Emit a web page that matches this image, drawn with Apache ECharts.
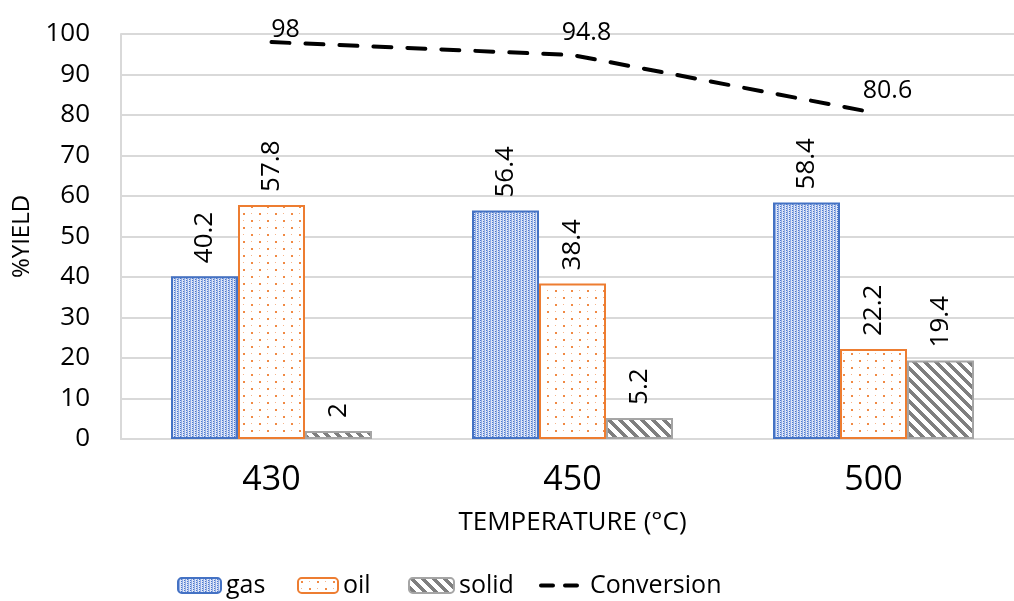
<!DOCTYPE html>
<html>
<head>
<meta charset="utf-8">
<script src="https://cdn.jsdelivr.net/npm/echarts@6/dist/echarts.min.js"></script>
<style>
  html, body { margin: 0; padding: 0; background: #fff; overflow: hidden; }
  #chart { width: 1014px; height: 601px; }
</style>
</head>
<body>
<div id="chart"></div>
<script>
// Product yields and conversion by reaction temperature
const temperatures = ['430', '450', '500'];
const gasYield = [40.2, 56.4, 58.4];
const oilYield = [57.8, 38.4, 22.2];
const solidYield = [2, 5.2, 19.4];
const conversion = [98, 94.8, 80.6];

const FONT = '"Open Sans", "Noto Sans", sans-serif';

// Fill patterns drawn on small canvases
function makePattern(w, h, draw) {
  const c = document.createElement('canvas');
  c.width = w; c.height = h;
  const ctx = c.getContext('2d');
  ctx.fillStyle = '#ffffff';
  ctx.fillRect(0, 0, w, h);
  draw(ctx);
  return { image: c, repeat: 'repeat' };
}

const gasFill = makePattern(6, 4, ctx => {
  ctx.fillStyle = '#dde5f6';
  ctx.fillRect(0, 0, 6, 4);
  ctx.fillStyle = '#4a76cc';
  ctx.fillRect(0, 0, 1, 1); ctx.fillRect(0, 2, 1, 1);
  ctx.fillRect(3, 1, 1, 1); ctx.fillRect(3, 3, 1, 1);
  ctx.fillStyle = '#93aee5';
  ctx.fillRect(1, 0, 1, 4); ctx.fillRect(4, 0, 1, 4);
});

const oilFill = makePattern(16, 14, ctx => {
  ctx.fillStyle = '#f08a45';
  ctx.fillRect(3, 3, 2, 2);
  ctx.fillRect(11, 10, 2, 2);
  ctx.fillStyle = '#f6b58a';
  ctx.fillRect(11, 3, 1, 1);
  ctx.fillRect(3, 10, 1, 1);
});

const solidFill = makePattern(11, 11, ctx => {
  ctx.fillStyle = '#7f7f7f';
  for (let x = 0; x < 11; x++) {
    for (let y = 0; y < 11; y++) {
      if (((x - y) % 11 + 11) % 11 < 5) ctx.fillRect(x, y, 1, 1);
    }
  }
});

const barLabel = {
  show: true,
  position: 'top',
  rotate: 90,
  align: 'left',
  verticalAlign: 'middle',
  distance: 13,
  color: '#000',
  fontFamily: FONT,
  fontSize: 26
};

// Conversion points; the first label sits lower, close to the top gridline
const conversionData = conversion.map((v, i) => (
  i === 0 ? { value: v, label: { offset: [14, 10] } } : v
));

const legendText = { fontFamily: FONT, fontSize: 25, color: '#000' };
function legendAt(left, name, extra) {
  return Object.assign({
    bottom: 3,
    left: left,
    padding: 0,
    itemWidth: 43,
    itemHeight: 15,
    itemGap: 0,
    textStyle: legendText,
    data: [name]
  }, extra || {});
}

const chart = echarts.init(document.getElementById('chart'), null, { renderer: 'canvas' });

chart.setOption({
  backgroundColor: '#ffffff',
  animation: false,
  grid: { left: 121, top: 34, width: 903, height: 405, containLabel: false, outerBoundsMode: 'none' },
  legend: [
    legendAt(177, 'gas'),
    legendAt(297, 'oil', { itemWidth: 40 }),
    legendAt(408, 'solid', { itemWidth: 45 }),
    legendAt(539, 'Conversion', {
      itemWidth: 36,
      textStyle: Object.assign({}, legendText, { padding: [0, 0, 0, 8] }),
      data: [{ name: 'Conversion', lineStyle: { type: [12, 12], width: 4, cap: 'round' } }]
    })
  ],
  xAxis: {
    type: 'category',
    data: temperatures,
    name: 'TEMPERATURE (°C)',
    nameLocation: 'middle',
    nameGap: 71,
    nameTextStyle: { fontFamily: FONT, fontSize: 26, color: '#000' },
    axisLine: { show: true, lineStyle: { color: '#d9d9d9', width: 2 } },
    axisTick: { show: false },
    axisLabel: { fontFamily: FONT, fontSize: 34, color: '#000', margin: 24 }
  },
  yAxis: {
    type: 'value',
    min: 0,
    max: 100,
    interval: 10,
    name: '%YIELD',
    nameLocation: 'middle',
    nameGap: 86,
    nameTextStyle: { fontFamily: FONT, fontSize: 24, color: '#000' },
    axisLine: { show: true, lineStyle: { color: '#d9d9d9', width: 2 } },
    axisTick: { show: false },
    splitLine: { lineStyle: { color: '#d9d9d9', width: 2 } },
    axisLabel: { fontFamily: FONT, fontSize: 26, color: '#000', margin: 31 }
  },
  series: [
    {
      name: 'gas', type: 'bar', data: gasYield,
      barWidth: 67, barGap: '0%',
      itemStyle: { color: gasFill, borderColor: '#4472c4', borderWidth: 2 },
      label: barLabel
    },
    {
      name: 'oil', type: 'bar', data: oilYield,
      barWidth: 67, barGap: '0%',
      itemStyle: { color: oilFill, borderColor: '#ed7d31', borderWidth: 2 },
      label: barLabel
    },
    {
      name: 'solid', type: 'bar', data: solidYield,
      barWidth: 67, barGap: '0%',
      itemStyle: { color: solidFill, borderColor: '#a5a5a5', borderWidth: 2 },
      label: barLabel
    },
    {
      name: 'Conversion', type: 'line', data: conversionData,
      symbol: 'circle', symbolSize: 1,
      itemStyle: { color: 'rgba(0,0,0,0)' },
      lineStyle: { color: '#000', width: 4, type: [18, 16], cap: 'round' },
      label: {
        show: true, position: 'top', distance: 9, offset: [14, 0],
        color: '#000', fontFamily: FONT, fontSize: 25
      },
      z: 5
    }
  ]
});
</script>
</body>
</html>
